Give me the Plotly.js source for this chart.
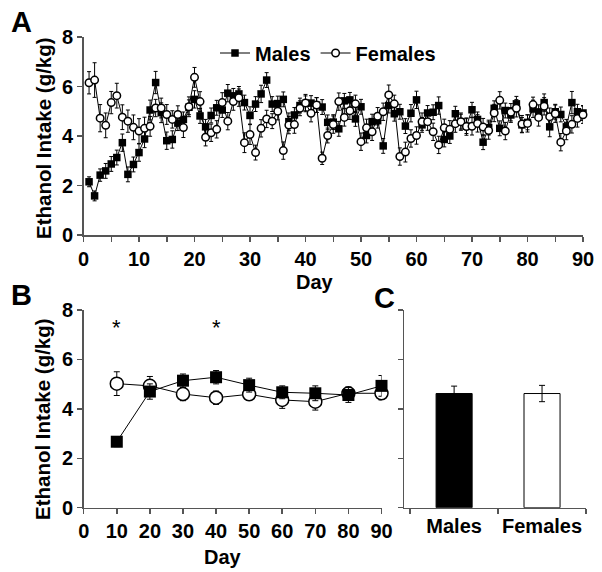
<!DOCTYPE html>
<html>
<head>
<meta charset="utf-8">
<script src="https://cdn.plot.ly/plotly-3.0.1.min.js"></script>
<style>
  html, body { margin: 0; padding: 0; background: #fff; }
  #chart { width: 602px; height: 572px; }
</style>
</head>
<body>
<div id="chart"></div>
<script>
// ---- Panel A: daily intake, days 1-90 ----
const daysA = Array.from({ length: 90 }, (_, i) => i + 1);

const malesA = [
  2.15, 1.58, 2.42, 2.59, 2.87, 3.13, 3.73, 2.45, 2.85, 3.33,
  3.88, 5.05, 6.16, 4.94, 3.81, 3.86, 4.52, 4.67, 5.16, 5.48,
  4.81, 4.37, 4.83, 5.14, 5.05, 5.73, 5.62, 5.70, 5.35, 4.83,
  5.29, 5.70, 6.26, 5.29, 5.31, 5.48, 4.58, 4.85, 5.23, 5.32,
  5.33, 5.25, 5.17, 4.55, 4.56, 4.29, 5.42, 5.46, 4.69, 5.18,
  4.02, 4.58, 4.62, 3.60, 5.23, 4.90, 4.98, 4.40, 4.92, 5.46,
  4.45, 4.93, 4.96, 5.23, 3.86, 4.00, 4.90, 4.58, 4.40, 5.06,
  4.67, 3.75, 4.34, 5.12, 4.31, 5.03, 4.85, 5.30, 4.45, 4.55,
  5.10, 4.96, 5.35, 4.37, 4.98, 4.87, 4.37, 5.35, 4.98, 4.93
];
const malesErrA = [
  0.20, 0.20, 0.25, 0.30, 0.30, 0.30, 0.35, 0.30, 0.30, 0.35,
  0.35, 0.40, 0.45, 0.40, 0.35, 0.35, 0.30, 0.30, 0.30, 0.35,
  0.30, 0.30, 0.30, 0.30, 0.30, 0.35, 0.30, 0.30, 0.30, 0.35,
  0.30, 0.35, 0.30, 0.30, 0.30, 0.30, 0.35, 0.30, 0.30, 0.30,
  0.30, 0.30, 0.30, 0.30, 0.30, 0.30, 0.30, 0.30, 0.30, 0.30,
  0.30, 0.30, 0.30, 0.30, 0.30, 0.30, 0.30, 0.30, 0.35, 0.35,
  0.30, 0.30, 0.30, 0.35, 0.30, 0.30, 0.30, 0.30, 0.30, 0.30,
  0.30, 0.30, 0.30, 0.30, 0.30, 0.30, 0.30, 0.30, 0.30, 0.30,
  0.35, 0.30, 0.35, 0.40, 0.30, 0.30, 0.30, 0.45, 0.30, 0.30
];
const femalesA = [
  6.15, 6.26, 4.72, 4.43, 5.35, 5.63, 4.76, 4.60, 4.35, 4.20,
  4.31, 4.39, 5.13, 5.13, 4.87, 4.67, 4.87, 4.34, 5.18, 6.37,
  5.39, 3.95, 4.13, 4.27, 5.35, 4.60, 5.39, 5.55, 3.73, 4.06,
  3.33, 4.31, 4.69, 4.60, 5.00, 3.41, 4.44, 4.46, 5.12, 5.33,
  4.92, 5.25, 3.10, 4.02, 4.46, 5.39, 4.75, 5.02, 5.30, 3.77,
  4.33, 4.17, 4.80, 4.98, 5.66, 5.30, 3.17, 3.35, 3.90, 4.02,
  4.58, 4.58, 4.17, 3.64, 4.33, 4.27, 4.50, 4.58, 4.38, 4.39,
  4.51, 4.36, 4.22, 4.93, 5.44, 4.20, 4.96, 5.12, 4.48, 4.51,
  5.27, 4.75, 5.20, 4.78, 4.90, 3.75, 4.20, 4.47, 4.71, 4.86
];
const femalesErrA = [
  0.45, 0.70, 0.55, 0.50, 0.45, 0.50, 0.50, 0.45, 0.50, 0.50,
  0.45, 0.40, 0.35, 0.40, 0.40, 0.35, 0.35, 0.40, 0.40, 0.40,
  0.40, 0.35, 0.35, 0.35, 0.40, 0.35, 0.35, 0.35, 0.40, 0.40,
  0.30, 0.35, 0.35, 0.30, 0.35, 0.35, 0.35, 0.35, 0.30, 0.35,
  0.35, 0.30, 0.25, 0.30, 0.35, 0.35, 0.35, 0.35, 0.35, 0.35,
  0.35, 0.35, 0.35, 0.35, 0.40, 0.35, 0.35, 0.40, 0.35, 0.35,
  0.35, 0.35, 0.35, 0.35, 0.35, 0.35, 0.35, 0.35, 0.35, 0.35,
  0.35, 0.35, 0.35, 0.35, 0.35, 0.35, 0.35, 0.35, 0.35, 0.35,
  0.30, 0.35, 0.35, 0.35, 0.35, 0.35, 0.35, 0.35, 0.35, 0.35
];

// ---- Panel B: 10-day averages ----
const daysB = [10, 20, 30, 40, 50, 60, 70, 80, 90];
const malesB = [2.67, 4.70, 5.14, 5.28, 4.96, 4.67, 4.63, 4.56, 4.93];
const malesErrB = [0.20, 0.31, 0.27, 0.27, 0.28, 0.26, 0.30, 0.30, 0.42];
const femalesB = [5.02, 4.93, 4.60, 4.45, 4.59, 4.36, 4.29, 4.63, 4.63];
const femalesErrB = [0.48, 0.38, 0.27, 0.27, 0.23, 0.34, 0.34, 0.25, 0.27];
const starDays = [10, 40];

// ---- Panel C: overall average ----
const groupsC = ['Males', 'Females'];
const meansC = [4.62, 4.62];
const errC = [0.30, 0.33];

const FONT = '"Liberation Sans", Arial, sans-serif';
const W = 602, H = 572;
const px = v => v / W;
const py = v => 1 - v / H;

const errStyle = { type: 'data', color: '#000', thickness: 1, width: 2 };

const traces = [
  {
    x: daysA, y: malesA, xaxis: 'x', yaxis: 'y', name: 'Males',
    type: 'scatter', mode: 'lines+markers', cliponaxis: false,
    line: { color: '#000', width: 1 },
    marker: { symbol: 'square', size: 7.5, color: '#000' },
    error_y: Object.assign({ array: malesErrA }, errStyle),
  },
  {
    x: daysA, y: femalesA, xaxis: 'x', yaxis: 'y', name: 'Females',
    type: 'scatter', mode: 'lines+markers', cliponaxis: false,
    line: { color: '#000', width: 1 },
    marker: { symbol: 'circle', size: 7.5, color: '#fff', line: { color: '#000', width: 1.5 } },
    error_y: Object.assign({ array: femalesErrA }, errStyle),
  },
  {
    x: daysB, y: femalesB, xaxis: 'x2', yaxis: 'y2', name: 'Females', showlegend: false,
    type: 'scatter', mode: 'lines+markers', cliponaxis: false,
    line: { color: '#000', width: 1 },
    marker: { symbol: 'circle', size: 13, color: '#fff', line: { color: '#000', width: 1.5 } },
    error_y: Object.assign({}, errStyle, { array: femalesErrB, width: 3 }),
  },
  {
    x: daysB, y: malesB, xaxis: 'x2', yaxis: 'y2', name: 'Males', showlegend: false,
    type: 'scatter', mode: 'lines+markers', cliponaxis: false,
    line: { color: '#000', width: 1 },
    marker: { symbol: 'square', size: 12, color: '#000' },
    error_y: Object.assign({}, errStyle, { array: malesErrB, width: 3 }),
  },
  {
    x: groupsC, y: meansC, xaxis: 'x3', yaxis: 'y3', type: 'bar', showlegend: false,
    width: 0.41, cliponaxis: false,
    marker: { color: ['#000', '#fff'], line: { color: '#000', width: 1 } },
    error_y: Object.assign({}, errStyle, { array: errC, width: 3 }),
  },
];

const axisBase = {
  showgrid: false, zeroline: false, showline: true,
  linecolor: '#555', linewidth: 1.5,
  ticks: 'outside', ticklen: 5, tickcolor: '#555', tickwidth: 1.5,
  tickfont: { family: FONT, size: 20, color: '#000', weight: 'bold' },
  tickangle: 0,
};

const layout = {
  width: W, height: H,
  margin: { l: 0, r: 0, t: 0, b: 0 },
  paper_bgcolor: '#fff', plot_bgcolor: 'rgba(0,0,0,0)',
  showlegend: true,
  legend: {
    orientation: 'h', x: px(215), y: py(53), xanchor: 'left', yanchor: 'middle',
    bgcolor: 'rgba(0,0,0,0)',
    font: { family: FONT, size: 20, color: '#000', weight: 'bold' },
  },
  xaxis: Object.assign({}, axisBase, {
    domain: [px(83.5), px(583)], range: [0, 90], anchor: 'y',
    tick0: 0, dtick: 10,
    minor: { dtick: 5, ticks: 'outside', ticklen: 5, tickcolor: '#555', tickwidth: 1.5 },
  }),
  yaxis: Object.assign({}, axisBase, {
    domain: [py(235), py(37)], range: [0, 8], dtick: 2, anchor: 'x',
  }),
  xaxis2: Object.assign({}, axisBase, {
    domain: [px(83.7), px(381.5)], range: [0, 90], anchor: 'y2',
    tick0: 0, dtick: 10,
  }),
  yaxis2: Object.assign({}, axisBase, {
    domain: [py(507.7), py(310)], range: [0, 8], dtick: 2, anchor: 'x2',
  }),
  xaxis3: Object.assign({}, axisBase, {
    domain: [px(404), px(586)], range: [-0.57, 1.5], anchor: 'y3',
    type: 'category', tickson: 'boundaries',
  }),
  yaxis3: Object.assign({}, axisBase, {
    domain: [py(507.7), py(310)], range: [0, 8], dtick: 2, anchor: 'x3',
    showticklabels: false,
  }),
  annotations: [],
};

const ann = (text, x, y, opts) => Object.assign({
  text: text, x: x, y: y, xref: 'paper', yref: 'paper',
  showarrow: false, xanchor: 'center', yanchor: 'middle',
  font: { family: FONT, size: 20.5, color: '#000', weight: 'bold' },
}, opts || {});

const letterFont = { family: FONT, size: 29, color: '#000', weight: 'bold' };

// panel letters
layout.annotations.push(ann('A', px(21), py(22), { font: letterFont }));
layout.annotations.push(ann('B', px(21), py(295), { font: letterFont }));
layout.annotations.push(ann('C', px(384), py(298), { font: letterFont }));

// axis titles
layout.annotations.push(ann('Ethanol Intake (g/kg)', px(43), py(138), { textangle: -90 }));
layout.annotations.push(ann('Ethanol Intake (g/kg)', px(42), py(419), { textangle: -90 }));
layout.annotations.push(ann('Day', px(315), py(282), { font: { family: FONT, size: 20, color: '#000', weight: 'bold' } }));
layout.annotations.push(ann('Day', px(223), py(557), { font: { family: FONT, size: 20, color: '#000', weight: 'bold' } }));

// significance stars
starDays.forEach(d => {
  layout.annotations.push({
    text: '*', x: d, y: 7.3, xref: 'x2', yref: 'y2', showarrow: false,
    font: { family: FONT, size: 22, color: '#000' },
  });
});

Plotly.newPlot('chart', traces, layout, { staticPlot: true, displayModeBar: false });
</script>
</body>
</html>
